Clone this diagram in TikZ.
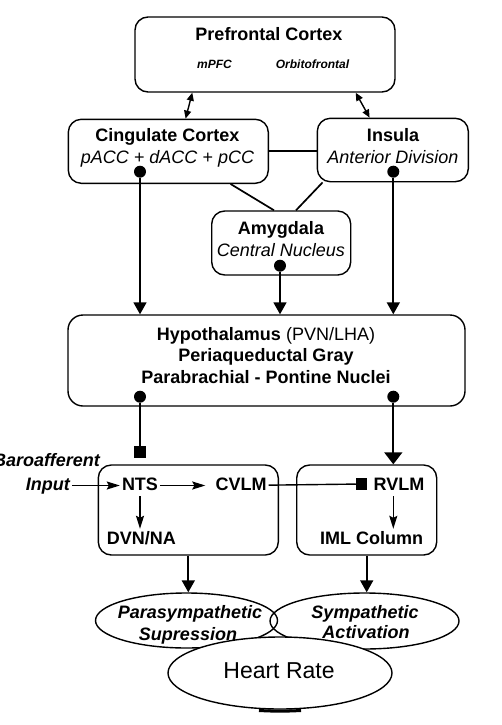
\documentclass[tikz,border=0pt]{standalone}
\usepackage{fontspec}
\setmainfont{Liberation Sans}
\usetikzlibrary{arrows.meta,shapes.geometric}

\begin{document}
\begin{tikzpicture}[x=10pt,y=-10pt,
    box/.style={draw,line width=1.4pt,rounded corners=13pt,inner sep=0pt},
    oval/.style={draw,ellipse,line width=1.4pt,inner sep=0pt},
    txt/.style={inner sep=2pt,text height=13pt,text depth=4pt,anchor=base,
      font=\fontsize{18}{21}\selectfont},
    ttl/.style={txt,font=\fontsize{18}{21}\selectfont\bfseries},
    sub/.style={txt,font=\fontsize{18}{21}\selectfont\itshape},
    bi/.style={txt,font=\fontsize{18}{21}\selectfont\bfseries\itshape},
    dot/.style={circle,fill,inner sep=0pt,minimum size=12pt},
    blk/.style={rectangle,fill,inner sep=0pt,minimum size=11.5pt},
    ln/.style={line width=1.7pt},
    arr/.style={ln,-{Triangle[length=12pt,width=13pt]}},
    sarr/.style={line width=1.4pt,-{Stealth[length=13pt,width=8pt,inset=2pt]}},
    dbl/.style={line width=1.4pt,
      {Triangle[length=8pt,width=7pt]}-{Triangle[length=8pt,width=7pt]}}]
    \useasboundingbox (0,0) rectangle (50.1,72.5);

    % cortical areas
    \node (pfc) at (26.5,5.45) [box,minimum width=260pt,minimum height=75pt] {};
    \node (pfcname) at (26.9,4.07) [ttl] {Prefrontal Cortex};
    \node (mpfc) at (21.45,6.83) [bi,font=\fontsize{12}{14}\selectfont\bfseries\itshape] {mPFC};
    \node (ofc) at (31.25,6.83) [bi,font=\fontsize{12}{14}\selectfont\bfseries\itshape] {Orbitofrontal};
    \node (cing) at (16.83,15.13) [box,minimum width=200pt,minimum height=64pt] {};
    \node (cingname) at (16.75,14.17) [ttl] {Cingulate Cortex};
    \node (cingsub) at (16.75,16.33) [sub] {pACC + dACC + pCC};
    \node (ins) at (39.28,15.0) [box,minimum width=151pt,minimum height=63.4pt] {};
    \node (insname) at (39.3,14.17) [ttl] {Insula};
    \node (inssub) at (39.3,16.33) [sub] {Anterior Division};
    \node (amy) at (28.12,24.3) [box,minimum width=139pt,minimum height=64pt] {};
    \node (amyname) at (28.1,23.43) [ttl] {Amygdala};
    \node (amysub) at (28.1,25.67) [sub] {Central Nucleus};

    % hypothalamus / PAG / PB
    \node (hyp) at (26.65,36.05) [box,rounded corners=15pt,minimum width=397pt,minimum height=91pt] {};
    \node (hyp1) at (26.6,34.0) [ttl] {Hypothalamus \mdseries(PVN/LHA)};
    \node (hyp2) at (26.6,36.17) [ttl] {Periaqueductal Gray};
    \node (hyp3) at (26.6,38.33) [ttl] {Parabrachial - Pontine Nuclei};

    % medulla
    \node (ntsbox) at (18.83,51.0) [box,minimum width=180pt,minimum height=90pt] {};
    \node (rvlmbox) at (36.67,51.0) [box,minimum width=140pt,minimum height=90pt] {};
    \node (nts) at (14.0,49.0) [ttl] {NTS};
    \node (cvlm) at (24.1,49.0) [ttl] {CVLM};
    \node (rvlm) at (39.9,49.0) [ttl] {RVLM};
    \node (dvn) at (14.13,54.4) [ttl] {DVN/NA};
    \node (iml) at (37.17,54.4) [ttl] {IML Column};
    \node (baro) at (10.2,46.67) [bi,anchor=base east] {Baroafferent};
    \node (input) at (7.2,49.0) [bi,anchor=base east] {Input};

    % end points
    \node (cingdot) at (14.0,17.17) [dot] {};
    \node (insdot) at (39.33,17.17) [dot] {};
    \node (amydot) at (28.0,26.57) [dot] {};
    \node (hypdotl) at (14.0,39.67) [dot] {};
    \node (hypdotr) at (39.33,39.67) [dot] {};
    \node (ntsblk) at (14.0,45.2) [blk] {};
    \node (rvlmblk) at (36.17,48.4) [blk] {};

    \draw[dbl] ([xshift=58pt]pfc.south west) -- ([xshift=118pt]cing.north west);
    \draw[dbl] ([xshift=-40pt]pfc.south east) -- ([xshift=53pt]ins.north west);
    \draw[ln] (cing.east) -- (cing.east -| ins.west);
    \draw[ln] ([xshift=163pt]cing.south west) -- ([xshift=63pt]amy.north west);
    \draw[ln] ([xshift=6pt]ins.south west) -- ([xshift=85pt]amy.north west);
    \draw[arr] (cingdot) -- (cingdot |- hyp.north);
    \draw[arr] (amydot) -- (amydot |- hyp.north);
    \draw[arr] (insdot) -- (insdot |- hyp.north);
    \draw[ln] (hypdotl) -- (ntsblk);
    \draw[arr,-{Triangle[length=12pt,width=18pt]}] (hypdotr) -- (hypdotr |- rvlmbox.north);
    \draw[sarr] (input) -- (nts);
    \draw[sarr,shorten >=8pt] (nts) -- (cvlm);
    \draw[line width=1.4pt] (cvlm) -- (rvlmblk);
    \draw[sarr] (nts) -- (nts |- dvn.north);
    \draw[sarr] (rvlm.south -| hypdotr) -- (iml.north -| hypdotr);

    % autonomic outflow
    \node (para) at (18.65,62.05) [oval,minimum width=182pt,minimum height=55pt] {};
    \node (symp) at (36.45,62.1) [oval,minimum width=189pt,minimum height=56pt] {};
    \node (paraname) at (19.0,61.83) [bi] {Parasympathetic};
    \node (parasub) at (18.8,64.0) [bi] {Supression};
    \node (sympname) at (36.5,61.83) [bi] {Sympathetic};
    \node (sympsub) at (36.6,63.83) [bi] {Activation};
    \draw[arr] (ntsbox.south) -- (ntsbox.south |- para.north);
    \draw[arr] (rvlmbox.south) -- (rvlmbox.south |- symp.north);

    \node (hr) at (28.0,67.3) [oval,fill=white,minimum width=224pt,minimum height=72pt] {};
    \draw[line width=3pt] ([xshift=-21pt,yshift=-0.8pt]hr.south) to[bend right=3] ([xshift=21pt,yshift=-0.8pt]hr.south);
    \node (hrname) at (27.9,67.83) [txt,font=\fontsize{23}{26}\selectfont] {Heart Rate};
\end{tikzpicture}
\end{document}
